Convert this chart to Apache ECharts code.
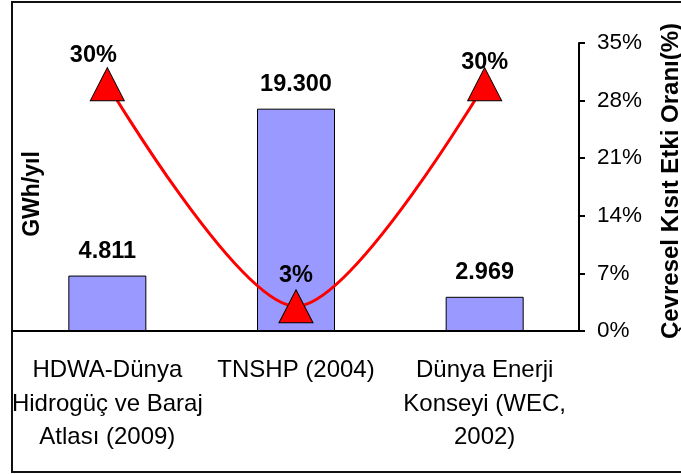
<!DOCTYPE html>
<html>
  <head>
    <meta charset="utf-8">
    <script src="https://cdn.jsdelivr.net/npm/echarts@6/dist/echarts.min.js"></script>
    <style>
      html, body { margin: 0; padding: 0; background: #fff; }
    </style>
  </head>
  <body>
    <div class="chart" style="width:681px;height:474px;"></div>
    <script>
      var categories = [
        'HDWA-Dünya\nHidrogüç ve Baraj\nAtlası (2009)',
        'TNSHP (2004)',
        'Dünya Enerji\nKonseyi (WEC,\n2002)'
      ];
      var energyGWh = [4811, 19300, 2969];
      var constraintPct = [30, 3, 30];
      var pctTicks = { min: 0, max: 35, interval: 7 };

      var font = "'Liberation Sans', Arial, sans-serif";

      function dotThousands(v) {
        return String(v).replace(/\B(?=(\d{3})+(?!\d))/g, '.');
      }

      // label nudges so the % labels sit like in the original
      var pctLabelTweaks = [
        { distance: 0, offset: [-14, 0] },
        { distance: 2 },
        { distance: -7 }
      ];
      var lineData = constraintPct.map(function (v, i) {
        return { value: v, label: pctLabelTweaks[i] };
      });

      var chart = echarts.init(document.getElementsByClassName('chart')[0], null, { renderer: 'canvas' });

      chart.setOption({
        animation: false,
        backgroundColor: '#fff',
        grid: { left: 13, right: 102, top: 43, bottom: 143 },
        xAxis: {
          type: 'category',
          data: categories,
          axisLine: { lineStyle: { color: '#000', width: 2 } },
          axisTick: { length: 8, lineStyle: { color: '#000', width: 2 } },
          axisLabel: {
            interval: 0,
            color: '#000',
            fontFamily: font,
            fontSize: 24,
            lineHeight: 33.5,
            margin: 23
          }
        },
        yAxis: [
          {
            type: 'value',
            min: 0,
            max: 25000,
            position: 'left',
            axisLine: { show: false },
            axisTick: { show: false },
            axisLabel: { show: false },
            splitLine: { show: false }
          },
          {
            type: 'value',
            position: 'right',
            min: pctTicks.min,
            max: pctTicks.max,
            interval: pctTicks.interval,
            axisLine: { show: true, lineStyle: { color: '#000', width: 2 } },
            axisTick: { show: true, length: 6, lineStyle: { color: '#000', width: 2 } },
            axisLabel: {
              formatter: '{value}%',
              color: '#000',
              fontFamily: font,
              fontSize: 22.5,
              margin: 18
            },
            splitLine: { show: false }
          }
        ],
        series: [
          {
            type: 'bar',
            yAxisIndex: 0,
            data: energyGWh,
            barWidth: 78,
            itemStyle: { color: '#9999ff', borderColor: '#000', borderWidth: 1 },
            label: {
              show: true,
              position: 'top',
              distance: 12,
              color: '#000',
              fontFamily: font,
              fontWeight: 'bold',
              fontSize: 23.5,
              formatter: function (p) { return dotThousands(p.value); }
            }
          },
          {
            type: 'line',
            yAxisIndex: 1,
            data: lineData,
            smooth: 0.3,
            symbol: 'triangle',
            symbolSize: [34, 33],
            lineStyle: { color: '#ff0000', width: 3 },
            itemStyle: { color: '#ff0000', borderColor: '#000', borderWidth: 1 },
            label: {
              show: true,
              position: 'top',
              color: '#000',
              fontFamily: font,
              fontWeight: 'bold',
              fontSize: 23.5,
              formatter: '{c}%'
            },
            z: 5
          }
        ],
        graphic: [
          {
            type: 'rect',
            shape: { x: 12, y: 2, width: 680, height: 470 },
            style: { fill: null, stroke: '#111', lineWidth: 2 },
            silent: true
          },
          {
            type: 'text',
            x: 33,
            y: 194,
            rotation: Math.PI / 2,
            style: {
              text: 'GWh/yıl',
              fontFamily: font,
              fontWeight: 'bold',
              fontSize: 23,
              fill: '#000',
              align: 'center',
              verticalAlign: 'middle'
            }
          },
          {
            type: 'text',
            x: 671,
            y: 181,
            rotation: Math.PI / 2,
            style: {
              text: 'Çevresel Kısıt Etki Oranı(%)',
              fontFamily: font,
              fontWeight: 'bold',
              fontSize: 24,
              fill: '#000',
              align: 'center',
              verticalAlign: 'middle'
            }
          }
        ]
      });
    </script>
  </body>
</html>
